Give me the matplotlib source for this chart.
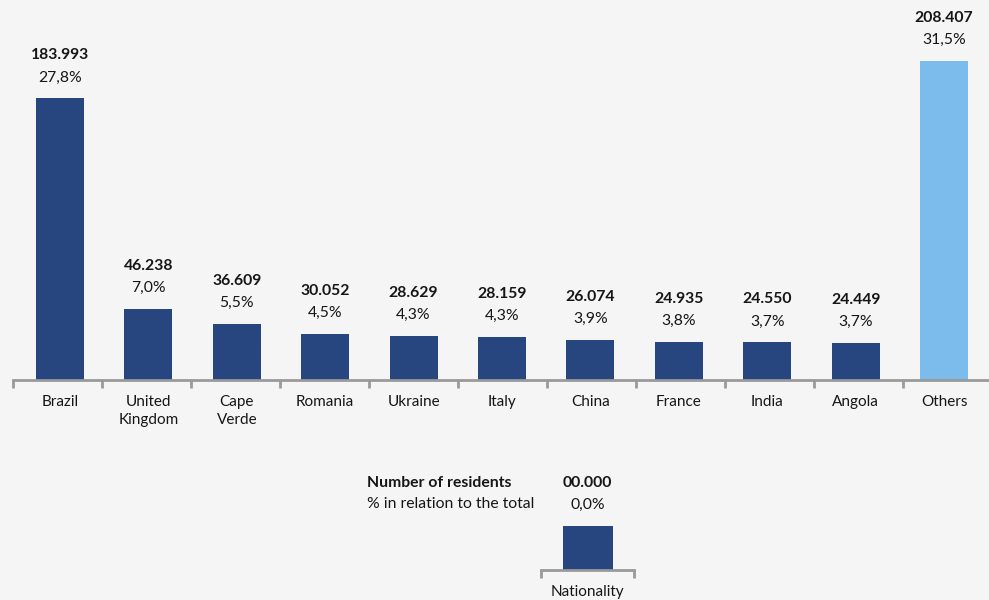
import matplotlib
matplotlib.use("Agg")
import matplotlib.pyplot as plt

plt.rcParams['font.family'] = ['Lato', 'DejaVu Sans']

categories = ["Brazil", "United\nKingdom", "Cape\nVerde", "Romania", "Ukraine", "Italy",
              "China", "France", "India", "Angola", "Others"]
residents = [183993, 46238, 36609, 30052, 28629, 28159, 26074, 24935, 24550, 24449, 208407]
value_labels = ["183.993", "46.238", "36.609", "30.052", "28.629", "28.159", "26.074",
                "24.935", "24.550", "24.449", "208.407"]
pct_labels = ["27,8%", "7,0%", "5,5%", "4,5%", "4,3%", "4,3%", "3,9%", "3,8%", "3,7%", "3,7%", "31,5%"]

legend_category = ["Nationality"]
legend_value = [29000]
legend_value_label = "00.000"
legend_pct_label = "0,0%"
legend_title = "Number of residents"
legend_sub = "% in relation to the total"

BG = "#f5f5f5"
DARK = "#27467f"
LIGHT = "#7bbcec"
AXIS = "#9a9a9a"
TXT = "#161616"

W, H = 989, 600
fig = plt.figure(figsize=(W / 100, H / 100), dpi=100, facecolor=BG)

px_per_unit = 0.00153
ymax = 230000
FS = 11.3

def add_axes_px(x0, x1, ybase, ymax_val):
    h = ymax_val * px_per_unit
    return fig.add_axes([x0 / W, (H - ybase) / H, (x1 - x0) / W, h / H])

def style(ax, n, xlim, minor_ticks):
    ax.set_facecolor("none")
    for s in ["top", "right", "left"]:
        ax.spines[s].set_visible(False)
    ax.spines["bottom"].set_color(AXIS)
    ax.spines["bottom"].set_linewidth(2)
    ax.set_yticks([])
    ax.set_xlim(*xlim)
    ax.set_xticks(range(n))
    ax.tick_params(axis="x", which="major", length=0, pad=11, labelsize=11, labelcolor=TXT)
    ax.set_xticks(minor_ticks, minor=True)
    ax.tick_params(axis="x", which="minor", length=6, width=2, color=AXIS, direction="out")

# main chart: axis line from x=13px to 992px, bars centred at 60 + 88.4*i px
AX0, AX1, SLOT_PX, TICK_PX = 13, 992, 88.4, 89.0
C0 = 60
ax = add_axes_px(AX0, AX1, 380, ymax)
colors = [DARK] * (len(residents) - 1) + [LIGHT]
ax.bar(range(len(residents)), residents, width=48 / SLOT_PX, color=colors, zorder=2)
xlim = ((AX0 - C0) / SLOT_PX, (AX1 - C0) / SLOT_PX)
minor = [(AX0 + TICK_PX * k - C0) / SLOT_PX for k in range(len(residents) + 1)]
style(ax, len(residents), xlim, minor)
ax.set_ylim(0, ymax)
ax.set_xticklabels(categories, linespacing=1.3)

for i, (v, vl, pl) in enumerate(zip(residents, value_labels, pct_labels)):
    ax.annotate(vl, (i, v), xytext=(0, 43), textcoords="offset pixels", ha="center", va="center",
                fontsize=FS, fontweight="bold", color=TXT, annotation_clip=False)
    ax.annotate(pl, (i, v), xytext=(0, 21), textcoords="offset pixels", ha="center", va="center",
                fontsize=FS, color=TXT, annotation_clip=False)

# legend chart
lax = add_axes_px(541, 634, 570, 40000)
lax.bar(range(1), legend_value, width=50 / 93, color=DARK, zorder=2)
style(lax, 1, (-0.5, 0.5), [-0.5, 0.5])
lax.set_ylim(0, 40000)
lax.set_xticklabels(legend_category)
for i, v in enumerate(legend_value):
    lax.annotate(legend_value_label, (i, v), xytext=(0, 43), textcoords="offset pixels",
                 ha="center", va="center", fontsize=FS, fontweight="bold", color=TXT,
                 annotation_clip=False)
    lax.annotate(legend_pct_label, (i, v), xytext=(0, 21), textcoords="offset pixels",
                 ha="center", va="center", fontsize=FS, color=TXT, annotation_clip=False)

fig.text(367 / W, 1 - 483 / H, legend_title, ha="left", va="center", fontsize=FS,
         fontweight="bold", color=TXT)
fig.text(367 / W, 1 - 504 / H, legend_sub, ha="left", va="center", fontsize=FS, color=TXT)

fig.savefig("out.png", dpi=100, facecolor=BG)
